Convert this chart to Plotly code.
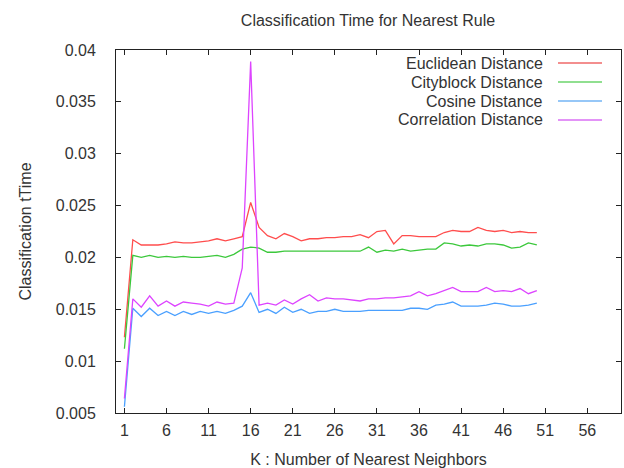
import plotly.graph_objects as go

k = list(range(1, 51))
euclidean = [0.0123, 0.0217, 0.0212, 0.0212, 0.0212, 0.0213, 0.0215, 0.0214, 0.0214, 0.0215,
             0.0216, 0.0218, 0.0216, 0.0218, 0.0220, 0.0253, 0.0229, 0.0221, 0.0218, 0.0223,
             0.0220, 0.0216, 0.0218, 0.0218, 0.0219, 0.0219, 0.0220, 0.0220, 0.0222, 0.0219,
             0.0225, 0.0226, 0.0213, 0.0221, 0.0221, 0.0220, 0.0220, 0.0220, 0.0224, 0.0226,
             0.0225, 0.0225, 0.0229, 0.0226, 0.0225, 0.0226, 0.0224, 0.0225, 0.0224, 0.0224]
cityblock = [0.0112, 0.0202, 0.0200, 0.0202, 0.0200, 0.0201, 0.0200, 0.0201, 0.0200, 0.0200,
             0.0201, 0.0202, 0.0200, 0.0203, 0.0208, 0.0210, 0.0209, 0.0205, 0.0205, 0.0206,
             0.0206, 0.0206, 0.0206, 0.0206, 0.0206, 0.0206, 0.0206, 0.0206, 0.0206, 0.0210,
             0.0205, 0.0207, 0.0206, 0.0208, 0.0206, 0.0207, 0.0208, 0.0208, 0.0214, 0.0213,
             0.0211, 0.0212, 0.0211, 0.0213, 0.0213, 0.0212, 0.0209, 0.0210, 0.0214, 0.0212]
cosine = [0.0056, 0.0151, 0.0143, 0.0151, 0.0144, 0.0148, 0.0144, 0.0148, 0.0145, 0.0148,
          0.0146, 0.0148, 0.0146, 0.0149, 0.0153, 0.0166, 0.0147, 0.0150, 0.0146, 0.0152,
          0.0147, 0.0150, 0.0146, 0.0148, 0.0148, 0.0150, 0.0148, 0.0148, 0.0148, 0.0149,
          0.0149, 0.0149, 0.0149, 0.0149, 0.0151, 0.0151, 0.0150, 0.0154, 0.0155, 0.0157,
          0.0153, 0.0153, 0.0153, 0.0154, 0.0156, 0.0155, 0.0153, 0.0153, 0.0154, 0.0156]
correlation = [0.0064, 0.0160, 0.0152, 0.0163, 0.0153, 0.0158, 0.0153, 0.0157, 0.0156, 0.0155,
               0.0153, 0.0157, 0.0155, 0.0156, 0.0190, 0.0389, 0.0154, 0.0156, 0.0154, 0.0159,
               0.0155, 0.0160, 0.0164, 0.0158, 0.0161, 0.0160, 0.0160, 0.0159, 0.0158, 0.0160,
               0.0160, 0.0161, 0.0161, 0.0162, 0.0163, 0.0167, 0.0163, 0.0165, 0.0168, 0.0171,
               0.0167, 0.0167, 0.0167, 0.0171, 0.0167, 0.0168, 0.0167, 0.0170, 0.0165, 0.0168]

names = ["Euclidean Distance", "Cityblock Distance", "Cosine Distance", "Correlation Distance"]
series = [euclidean, cityblock, cosine, correlation]
colors = ["#ff4d4d", "#3cc83c", "#4aa0ff", "#dd44ff"]
legend_colors = ["#e81e1e", "#22c022", "#2f8ff0", "#c828f0"]

x_ticks = list(range(1, 57, 5))
y_ticks = [0.005, 0.01, 0.015, 0.02, 0.025, 0.03, 0.035, 0.04]
y_tick_text = ["0.005", "0.01", "0.015", "0.02", "0.025", "0.03", "0.035", "0.04"]

FONT = "Liberation Sans, Arial, sans-serif"
TXT = "#333333"
FS = 16

# plot area in pixels
L, R, T, B = 116, 621, 50, 413
W, H = R - L, B - T

fig = go.Figure()
for name, ys, c in zip(names, series, colors):
    fig.add_trace(go.Scatter(x=k, y=ys, mode="lines", name=name,
                             line=dict(color=c, width=1.3), showlegend=False))

# gnuplot-style legend: right-aligned text with line sample to its right
row_y = [63, 82, 101, 120]
for name, c, ry in zip(names, legend_colors, row_y):
    yp = (B - ry) / H
    fig.add_annotation(x=(545 - L) / W, y=yp, xref="paper", yref="paper", text=name,
                       showarrow=False, xanchor="right", yanchor="middle",
                       font=dict(family=FONT, size=FS, color=TXT))
    fig.add_shape(type="line", xref="paper", yref="paper",
                  x0=(558 - L) / W, x1=(602 - L) / W, y0=yp, y1=yp,
                  line=dict(color=c, width=1.2))

axis_common = dict(showline=True, linecolor="#222222", linewidth=1, mirror="allticks",
                   ticks="inside", ticklen=5, tickcolor="#222222", tickwidth=1,
                   showgrid=False, zeroline=False,
                   tickfont=dict(family=FONT, size=FS, color=TXT))

fig.update_layout(
    width=624, height=468,
    margin=dict(l=L, r=624 - R, t=T, b=468 - B, autoexpand=False),
    paper_bgcolor="white", plot_bgcolor="white",
    title=dict(text="Classification Time for Nearest Rule", x=368 / 624, xanchor="center",
               y=1 - 20 / 468, yanchor="middle",
               font=dict(family=FONT, size=FS, color=TXT)),
    xaxis=dict(range=[0, 60], tickvals=x_ticks, ticklabelstandoff=3,
               title=dict(text="K : Number of Nearest Neighbors", standoff=16,
                          font=dict(family=FONT, size=FS, color=TXT)),
               **axis_common),
    yaxis=dict(range=[0.005, 0.04], tickvals=y_ticks, ticktext=y_tick_text,
               ticklabelstandoff=16,
               title=dict(text="Classification tTime", standoff=20,
                          font=dict(family=FONT, size=FS, color=TXT)),
               **axis_common),
    showlegend=False,
)

fig.write_html("out.html")
